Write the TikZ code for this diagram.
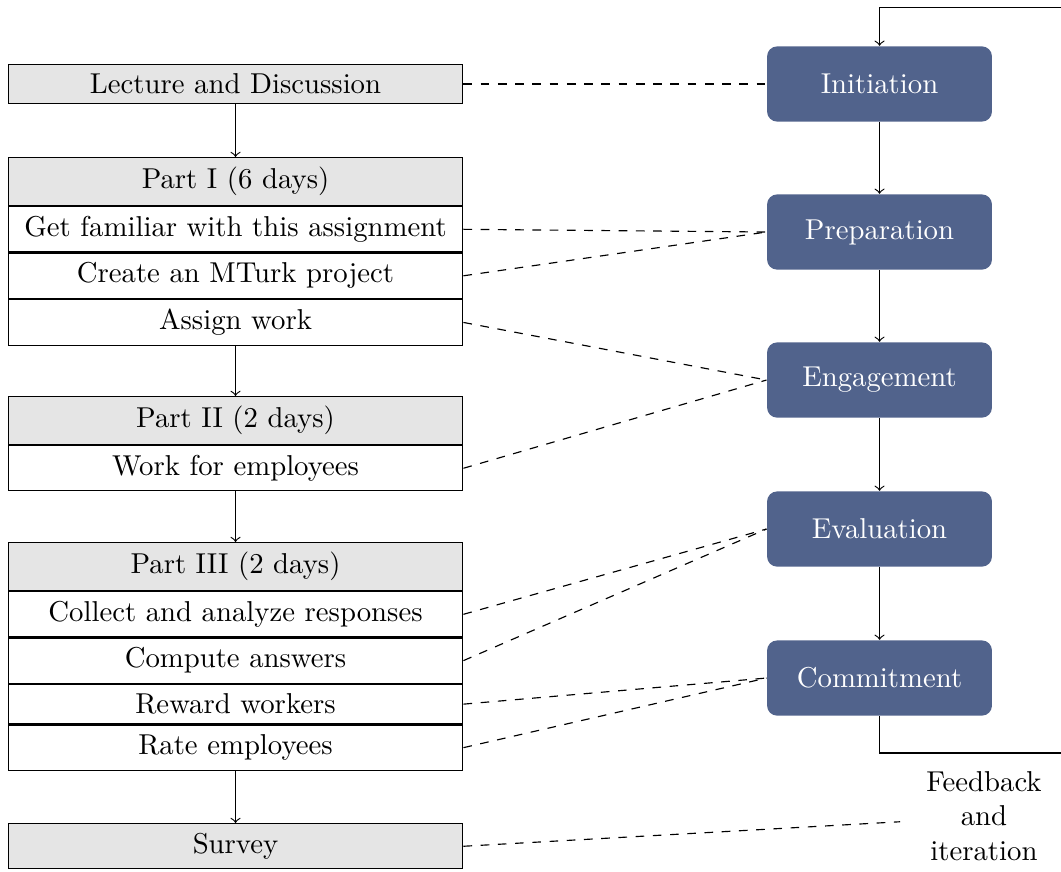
\documentclass[tikz,border=0pt]{standalone}
\usepackage{tikz}
\usetikzlibrary{positioning}
\definecolor{stageblue}{RGB}{81,99,140}

\begin{document}
\begin{tikzpicture}[
    task/.style={draw, minimum width=5.56cm},
    head/.style={task, fill=black!10},
    stage/.style={fill=stageblue, text=white, rounded corners=3.5pt, minimum width=2.75cm, minimum height=0.92cm},
    link/.style={dashed}
]
\useasboundingbox (0,0) rectangle (12.974,-10.651);

% left column
\node[head] (lecture) at (2.88, -1.027) {Lecture and Discussion};
\node[head, anchor=north] (part1) at (2.88, -1.92) {Part I (6 days)};
\node[task, below=0pt of part1] (fam) {Get familiar with this assignment};
\node[task, below=0pt of fam] (mturk) {Create an MTurk project};
\node[task, below=0pt of mturk] (assign) {Assign work};
\node[head, anchor=north] (part2) at (2.88, -4.842) {Part II (2 days)};
\node[task, below=0pt of part2] (work) {Work for employees};
\node[head, anchor=north] (part3) at (2.88, -6.628) {Part III (2 days)};
\node[task, below=0pt of part3] (collect) {Collect and analyze responses};
\node[task, below=0pt of collect] (compute) {Compute answers};
\node[task, below=0pt of compute] (reward) {Reward workers};
\node[task, below=0pt of reward] (rate) {Rate employees};
\node[head, anchor=north] (survey) at (2.88, -10.064) {Survey};

\draw[->] (lecture) -- (part1);
\draw[->] (assign) -- (part2);
\draw[->] (work) -- (part3);
\draw[->] (rate) -- (survey);

% right column
\node[stage] (init) at (10.755, -1.027) {Initiation};
\node[stage] (prep) at (10.755, -2.837) {Preparation};
\node[stage] (engage) at (10.755, -4.647) {Engagement};
\node[stage] (eval) at (10.755, -6.469) {Evaluation};
\node[stage] (commit) at (10.755, -8.291) {Commitment};
\node[text width=1.8cm, align=center] (fb) at (12.032, -9.978) {Feedback and iteration};

\draw[->] (init) -- (prep);
\draw[->] (prep) -- (engage);
\draw[->] (engage) -- (eval);
\draw[->] (eval) -- (commit);
\coordinate (loopr) at (13.02, -0.09);
\draw[->] (commit.south) -- ++(0,-0.45) -| (loopr) -| (init.north);

% links
\draw[link] (lecture.east) -- (init.west);
\draw[link] (fam.east) -- (prep.west);
\draw[link] (mturk.east) -- (prep.west);
\draw[link] (assign.east) -- (engage.west);
\draw[link] (work.east) -- (engage.west);
\draw[link] (collect.east) -- (eval.west);
\draw[link] (compute.east) -- (eval.west);
\draw[link] (reward.east) -- (commit.west);
\draw[link] (rate.east) -- (commit.west);
\draw[link] (survey.east) -- ([yshift=-2pt]fb.west);
\end{tikzpicture}
\end{document}
